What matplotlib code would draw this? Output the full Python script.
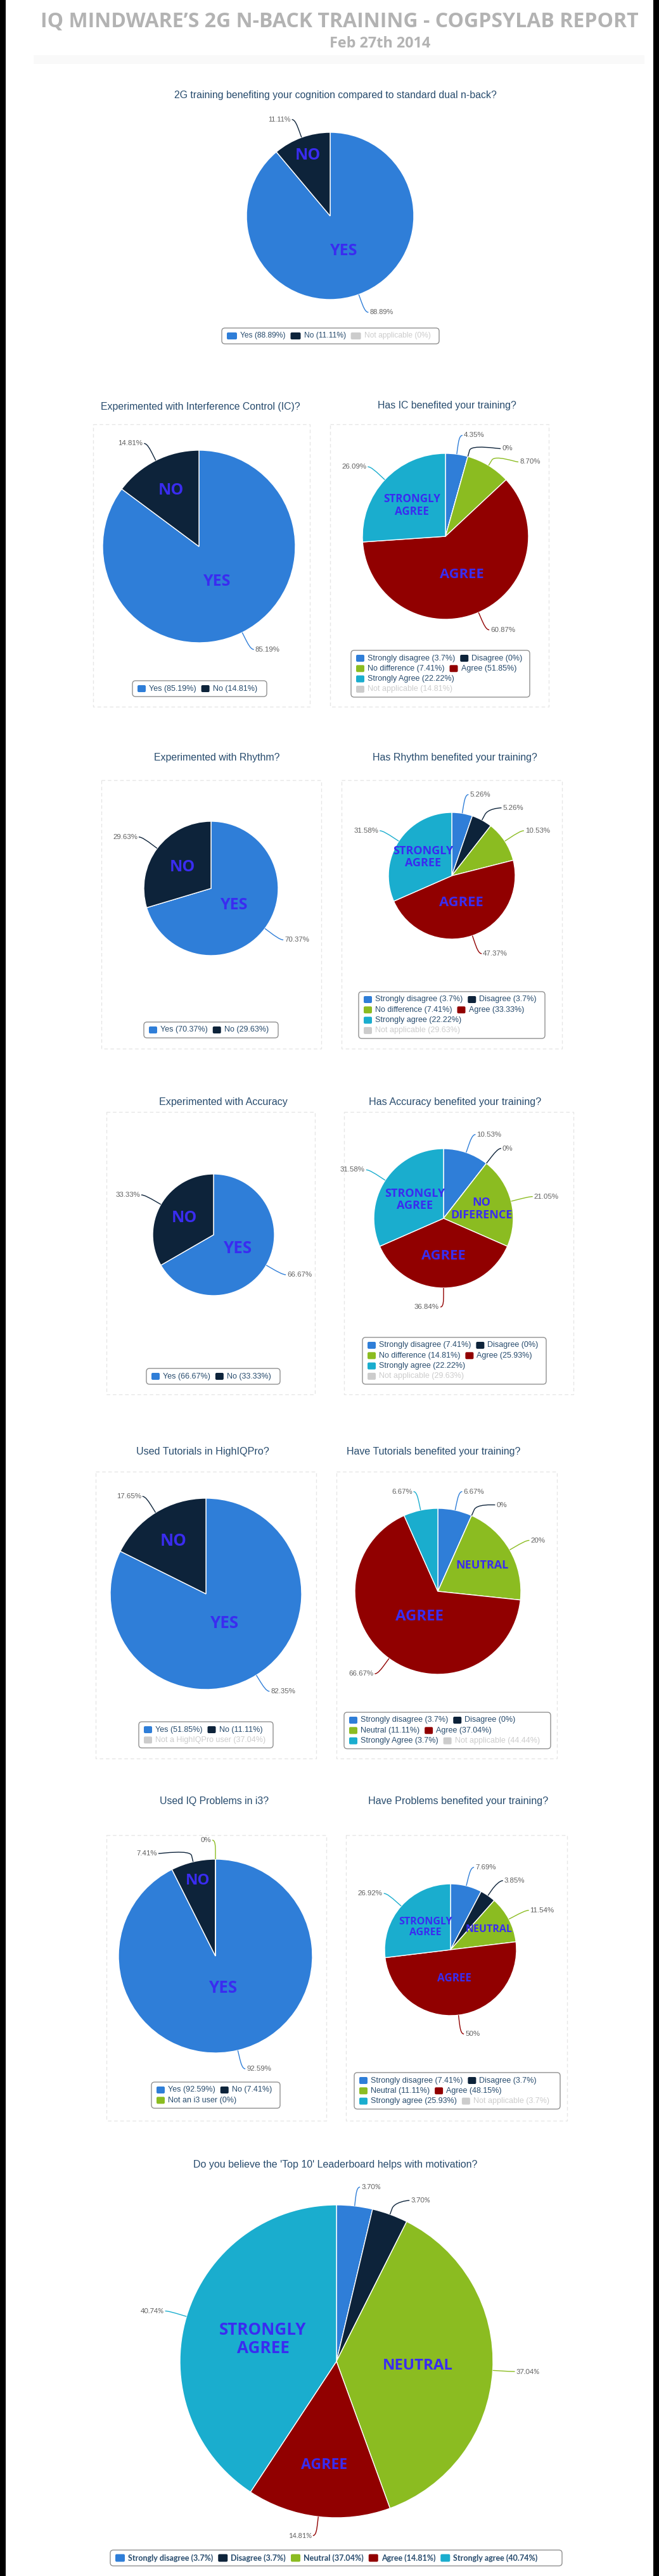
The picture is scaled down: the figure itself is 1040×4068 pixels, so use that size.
import numpy as np
import matplotlib
matplotlib.use('Agg')
import matplotlib.pyplot as plt
from matplotlib.patches import FancyBboxPatch, Rectangle, PathPatch
from matplotlib.path import Path

W, H = 1040, 4068

TOTAL = 27

q1_cats = ['Yes', 'No', 'Not applicable']
q1_counts = [24, 3, 0]
q1_hidden = [False, False, True]

ic_cats = ['Yes', 'No']
ic_counts = [23, 4]
ic_benefit_cats = ['Strongly disagree', 'Disagree', 'No difference', 'Agree', 'Strongly Agree', 'Not applicable']
ic_benefit_counts = [1, 0, 2, 14, 6, 4]

rhythm_cats = ['Yes', 'No']
rhythm_counts = [19, 8]
rhythm_benefit_cats = ['Strongly disagree', 'Disagree', 'No difference', 'Agree', 'Strongly agree', 'Not applicable']
rhythm_benefit_counts = [1, 1, 2, 9, 6, 8]

accuracy_cats = ['Yes', 'No']
accuracy_counts = [18, 9]
accuracy_benefit_cats = ['Strongly disagree', 'Disagree', 'No difference', 'Agree', 'Strongly agree', 'Not applicable']
accuracy_benefit_counts = [2, 0, 4, 7, 6, 8]

tutorial_cats = ['Yes', 'No', 'Not a HighIQPro user']
tutorial_counts = [14, 3, 10]
tutorial_hidden = [False, False, True]
tutorial_benefit_cats = ['Strongly disagree', 'Disagree', 'Neutral', 'Agree', 'Strongly Agree', 'Not applicable']
tutorial_benefit_counts = [1, 0, 3, 10, 1, 12]

problem_cats = ['Yes', 'No', 'Not an i3 user']
problem_counts = [25, 2, 0]
problem_benefit_cats = ['Strongly disagree', 'Disagree', 'Neutral', 'Agree', 'Strongly agree', 'Not applicable']
problem_benefit_counts = [2, 1, 3, 13, 7, 1]

leader_cats = ['Strongly disagree', 'Disagree', 'Neutral', 'Agree', 'Strongly agree']
leader_counts = [1, 1, 10, 4, 11]

LIKERT_HIDDEN = [False, False, False, False, False, True]

# ---- colours (highcharts 3 defaults) ----
BLUE, NAVY, GREEN, RED, CYAN, GREY = '#2f7ed8', '#0d233a', '#8bbc21', '#910000', '#1aadce', '#cccccc'
YN_COLORS = [BLUE, NAVY, GREY]
YN3_COLORS = [BLUE, NAVY, GREEN]
LIKERT_COLORS = [BLUE, NAVY, GREEN, RED, CYAN, GREY]
TITLE_C = '#274b6d'
LABEL_C = '#606060'
OVERLAY_C = '#3a2cf0'
PT = 0.72  # px -> pt at 100 dpi

STYLES = {
    'q1': dict(lab_font='Liberation Sans', lab_px=11, leg_font='Liberation Sans', leg_px=12,
               leg_weight='normal', sym=(16, 11), line_h=16),
    'row': dict(lab_font='Liberation Sans', lab_px=11.5, leg_font='Liberation Sans', leg_px=12.5,
                leg_weight='normal', sym=(13, 11), line_h=16.3),
    'final': dict(lab_font='Lato', lab_px=11, leg_font='Lato', leg_px=12.5,
                  leg_weight='bold', sym=(15, 12), line_h=16),
}

panels = [
    dict(title='2G training benefiting your cognition compared to standard dual n-back?', title_at=(529, 151, 508),
         cats=q1_cats, counts=q1_counts, hidden=q1_hidden, colors=YN_COLORS, style='q1',
         center=(521, 341), r=132, legend=(350, 693, 518),
         overlays=[('YES', 0, 0.45, 25), ('NO', 1, 0.77, 25)]),
    dict(title='Experimented with Interference Control (IC)?', title_at=(316, 643, 314),
         cats=ic_cats, counts=ic_counts, hidden=[False, False], colors=YN_COLORS, style='row',
         center=(314, 863), r=152, legend=(209, 421, 1075),
         overlays=[('NO', 1, 0.65, 25), ('YES', 0, 0.41, 25)]),
    dict(title='Has IC benefited your training?', title_at=(705, 641, 219),
         cats=ic_benefit_cats, counts=ic_benefit_counts, hidden=LIKERT_HIDDEN, colors=LIKERT_COLORS, style='row',
         center=(703, 847), r=131, legend=(554, 836, 1027),
         overlays=[('STRONGLY\nAGREE', 4, 0.55, 17), ('AGREE', 3, 0.5, 22)]),
    dict(title='Experimented with Rhythm?', title_at=(342, 1197, 199),
         cats=rhythm_cats, counts=rhythm_counts, hidden=[False, False], colors=YN_COLORS, style='row',
         center=(333, 1403), r=106, legend=(227, 439, 1614),
         overlays=[('NO', 1, 0.53, 25), ('YES', 0, 0.42, 25)]),
    dict(title='Has Rhythm benefited your training?', title_at=(718, 1197, 259),
         cats=rhythm_benefit_cats, counts=rhythm_benefit_counts, hidden=LIKERT_HIDDEN, colors=LIKERT_COLORS,
         style='row', center=(713, 1383), r=100, legend=(566, 860, 1566),
         overlays=[('STRONGLY\nAGREE', 4, 0.54, 18), ('AGREE', 3, 0.45, 22)]),
    dict(title='Experimented with Accuracy', title_at=(352, 1740, 202),
         cats=accuracy_cats, counts=accuracy_counts, hidden=[False, False], colors=YN_COLORS, style='row',
         center=(337, 1950), r=96, legend=(231, 442, 2161), clip=(168, 1756, 491, 2202),
         overlays=[('NO', 1, 0.56, 25), ('YES', 0, 0.45, 26)]),
    dict(title='Has Accuracy benefited your training?', title_at=(718, 1740, 272),
         cats=accuracy_benefit_cats, counts=accuracy_benefit_counts, hidden=LIKERT_HIDDEN, colors=LIKERT_COLORS,
         style='row', center=(700, 1924), r=110, legend=(572, 862, 2112),
         overlays=[('STRONGLY\nAGREE', 4, 0.49, 18), ('NO\nDIFERENCE', 2, 0.56, 18), ('AGREE', 3, 0.54, 22)]),
    dict(title='Used Tutorials in HighIQPro?', title_at=(320, 2293, 208),
         cats=tutorial_cats, counts=tutorial_counts, hidden=tutorial_hidden, colors=YN_COLORS, style='row',
         center=(325, 2517), r=151, legend=(219, 431, 2719),
         overlays=[('NO', 1, 0.65, 26), ('YES', 0, 0.36, 26)]),
    dict(title='Have Tutorials benefited your training?', title_at=(684, 2293, 274),
         cats=tutorial_benefit_cats, counts=tutorial_benefit_counts, hidden=LIKERT_HIDDEN, colors=LIKERT_COLORS,
         style='row', center=(691, 2513), r=131, legend=(543, 869, 2704),
         overlays=[('NEUTRAL', 2, 0.62, 18), ('AGREE', 3, 0.38, 24)]),
    dict(title='Used IQ Problems in i3?', title_at=(338, 2844, 171),
         cats=problem_cats, counts=problem_counts, hidden=[False, False, False], colors=YN3_COLORS, style='row',
         center=(340, 3089), r=153, legend=(239, 442, 3288),
         overlays=[('NO', 1, 0.80, 24), ('YES', 0, 0.34, 26)]),
    dict(title='Have Problems benefited your training?', title_at=(723, 2844, 282),
         cats=problem_benefit_cats, counts=problem_benefit_counts, hidden=LIKERT_HIDDEN, colors=LIKERT_COLORS,
         style='row', center=(711, 3079), r=104, legend=(559, 884, 3273),
         overlays=[('STRONGLY\nAGREE', 4, 0.51, 16), ('NEUTRAL', 2, 0.66, 16), ('AGREE', 3, 0.44, 17)]),
    dict(title="Do you believe the 'Top 10' Leaderboard helps with motivation?", title_at=(529, 3419, 449),
         cats=leader_cats, counts=leader_counts, hidden=[False] * 5, colors=LIKERT_COLORS, style='final',
         center=(531, 3729), r=247, legend=(174, 887, 4027),
         overlays=[('STRONGLY\nAGREE', 4, 0.49, 26), ('NEUTRAL', 2, 0.52, 24), ('AGREE', 3, 0.67, 23)]),
]

# dashed frames around the side-by-side charts
panel_boxes = [(147, 670, 489, 1116), (521, 670, 866, 1116),
               (160, 1232, 507, 1656), (539, 1232, 887, 1656),
               (168, 1756, 497, 2202), (543, 1756, 905, 2202),
               (151, 2324, 499, 2777), (531, 2324, 879, 2777),
               (168, 2898, 515, 3349), (546, 2898, 895, 3349)]

fig = plt.figure(figsize=(W / 100, H / 100), dpi=100)
ax = fig.add_axes([0, 0, 1, 1])
renderer = fig.canvas.get_renderer()


def text_w(t):
    return t.get_window_extent(renderer).width


def fit_text(x, y, s, width, **kw):
    t = ax.text(x, y, s, ha='center', **kw)
    t.set_fontsize(t.get_fontsize() * width / text_w(t))
    return t


def legend_pct(c):
    return f'{round(c / TOTAL * 100, 2):g}'


def slice_pct(v, tot):
    s = f'{v / tot * 100:.2f}'
    return s[:-3] if s.endswith('.00') else s


def draw_panel(p):
    st = STYLES[p['style']]
    cats, counts, hidden, colors = p['cats'], p['counts'], p['hidden'], p['colors']
    cx, cy = p['center']
    r = p['r']
    vis = [i for i in range(len(cats)) if not hidden[i]]
    vals = [counts[i] for i in vis]
    tot = sum(vals)

    # y axis is inverted: start at -90 going ccw in data = top, clockwise on screen
    ax.pie(vals, colors=[colors[i] for i in vis], center=(cx, cy), radius=r,
           startangle=-90, counterclock=True, wedgeprops=dict(edgecolor='white', linewidth=1))

    mids = {}
    cum = 0
    for i in vis:
        mids[i] = (cum + counts[i] / 2) / tot * 360
        cum += counts[i]

    clip = None
    if 'clip' in p:
        x0, y0, x1, y1 = p['clip']
        clip = Rectangle((x0, y0), x1 - x0, y1 - y0, transform=ax.transData)

    # data labels with soft connectors
    R = r + 30
    right, left = [], []
    for i in vis:
        ny = cy - R * np.cos(np.radians(mids[i]))
        (left if mids[i] >= 180 else right).append((ny, i))
    for side, sgn in ((right, 1), (left, -1)):
        side.sort()
        prev = -1e9
        for ny, i in side:
            y = max(ny, prev + 21)
            prev = y
            dy = y - cy
            x = cx + sgn * np.sqrt(max(R * R - dy * dy, 0))
            a = np.radians(mids[i])
            x3, y3 = cx + r * np.sin(a), cy - r * np.cos(a)
            x2, y2 = cx + (r + 10) * np.sin(a), cy - (r + 10) * np.cos(a)
            path = Path([(x + sgn * 5, y), (x, y), (2 * x2 - x3, 2 * y2 - y3), (x2, y2), (x3, y3)],
                        [Path.MOVETO, Path.CURVE4, Path.CURVE4, Path.CURVE4, Path.LINETO])
            ax.add_patch(PathPatch(path, fill=False, edgecolor=colors[i], lw=1, zorder=2))
            t = ax.text(x + sgn * 7, y, slice_pct(counts[i], tot) + '%', ha='left' if sgn > 0 else 'right',
                        va='center', fontsize=st['lab_px'] * PT, family=st['lab_font'], color=LABEL_C)
            if clip is not None:
                t.set_clip_path(clip)

    # big hand-written style labels inside the slices
    for txt, i, frac, px in p['overlays']:
        a = np.radians(mids[i])
        ax.text(cx + frac * r * np.sin(a), cy - frac * r * np.cos(a), txt, ha='center', va='center',
                fontsize=px * PT, family='Open Sans', weight='bold', color=OVERLAY_C,
                linespacing=1.1, zorder=4)

    # title
    tx, ty, tw = p['title_at']
    fit_text(tx, ty, p['title'], tw, va='center', family='Liberation Sans', fontsize=11, color=TITLE_C)

    # legend box, items flow left to right and wrap
    x0, x1, y0 = p['legend']
    sw, sh = st['sym']
    x = x0 + 8
    row = 0
    for i in range(len(cats)):
        col = GREY if hidden[i] else colors[i]
        t = ax.text(0, 0, f'{cats[i]} ({legend_pct(counts[i])}%)', va='center',
                    fontsize=st['leg_px'] * PT, family=st['leg_font'], weight=st['leg_weight'],
                    color=GREY if hidden[i] else TITLE_C)
        w = sw + 5 + text_w(t)
        if x + w > x1 - 4 and x > x0 + 8:
            row += 1
            x = x0 + 8
        yy = y0 + 12.5 + row * st['line_h']
        ax.add_patch(FancyBboxPatch((x, yy - sh / 2), sw, sh, boxstyle='round,pad=0,rounding_size=2',
                                    fc=col, ec='none', zorder=2))
        t.set_position((x + sw + 5, yy))
        x += w + 8
    h = 25 + row * st['line_h']
    ax.add_patch(FancyBboxPatch((x0, y0), x1 - x0, h, boxstyle='round,pad=0,rounding_size=5',
                                fc='white', ec='#909090', lw=1, zorder=0.9))


for (bx0, by0, bx1, by1) in panel_boxes:
    ax.add_patch(Rectangle((bx0, by0), bx1 - bx0, by1 - by0, fill=False, ec='#e6e6e6',
                           lw=1, ls=(0, (4, 3)), zorder=0.5))

for p in panels:
    draw_panel(p)

# header
fit_text(536, 43, 'IQ MINDWARE’S 2G N-BACK TRAINING - COGPSYLAB REPORT', 938, va='baseline',
         family='Open Sans', weight='bold', fontsize=22, color='#b3b3b3')
fit_text(600, 75, 'Feb 27th 2014', 160, va='baseline', family='Open Sans', weight='bold',
         fontsize=16, color='#b3b3b3')
ax.add_patch(Rectangle((53, 87), 964, 14, fc='#f9f9f9', ec='none', zorder=0.4))

# black side strips of the screenshot
ax.add_patch(Rectangle((0, 0), 9, H, fc='black', ec='none', zorder=5))
ax.add_patch(Rectangle((1031, 0), 9, H, fc='black', ec='none', zorder=5))

ax.set_xlim(0, W)
ax.set_ylim(H, 0)
ax.set_aspect('auto')
ax.axis('off')
fig.savefig('out.png', dpi=100, facecolor='white')
